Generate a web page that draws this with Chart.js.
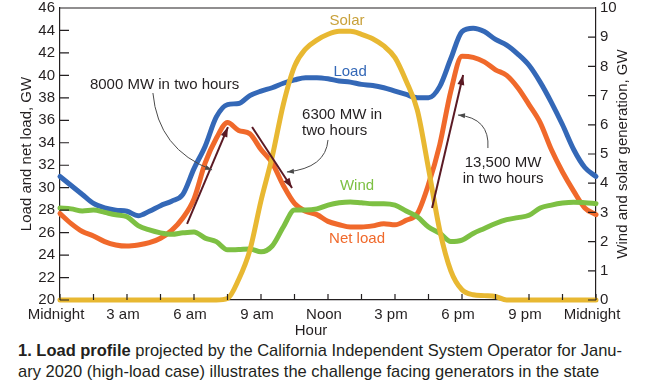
<!DOCTYPE html>
<html>
<head>
<meta charset="utf-8">
<title>Load profile</title>
<script src="https://cdn.jsdelivr.net/npm/chart.js@4.4.1/dist/chart.umd.min.js"></script>
<style>
  html, body { margin: 0; padding: 0; background: #fff; }
  #wrap { position: relative; width: 652px; height: 387px; overflow: hidden; }
  #chartBox { position: absolute; left: 0; top: 0; width: 652px; height: 340px; }
  #caption {
    position: absolute; left: 18px; top: 340px;
    font-family: 'Liberation Sans', Arial, sans-serif; font-size: 17px; line-height: 21px;
    color: #231f20; white-space: nowrap; transform-origin: 0 0;
  }
</style>
</head>
<body>
<div id="wrap">
  <div id="chartBox"><canvas id="loadChart"></canvas></div>
  <div id="caption"><span id="capLine1"><b>1. Load profile</b> projected by the California Independent System Operator for Janu-</span><br>ary 2020 (high-load case) illustrates the challenge facing generators in the state</div>
</div>
<script>
/* ------------------------------------------------------------------
   DATA — half-hourly readings, hour of day on x
   Load / net load on the left axis (GW), wind / solar on the right (GW)
   ------------------------------------------------------------------ */
var HOURS = [0, 0.5, 1, 1.5, 2, 2.5, 3, 3.5, 4, 4.5, 5, 5.5, 6, 6.5, 7, 7.5, 8, 8.5,
             9, 9.5, 10, 10.5, 11, 11.5, 12, 12.5, 13, 13.5, 14, 14.5, 15, 15.5, 16, 16.5,
             17, 17.5, 18, 18.5, 19, 19.5, 20, 20.5, 21, 21.5, 22, 22.5, 23, 23.5, 24];

var LOAD = [31.0, 30.2, 29.4, 28.6, 28.2, 28.0, 27.9, 27.5, 27.9, 28.4, 28.8, 29.4, 31.7, 33.7, 36.3, 37.4, 37.5, 38.2,
            38.6, 38.9, 39.3, 39.6, 39.8, 39.8, 39.7, 39.5, 39.4, 39.2, 39.1, 38.9, 38.6, 38.3, 38.0, 38.0,
            39.0, 41.5, 43.9, 44.2, 43.9, 43.2, 42.7, 41.9, 40.9, 39.4, 37.6, 35.6, 33.4, 31.8, 31.0];

var NET_LOAD = [27.7, 26.8, 26.1, 25.7, 25.2, 24.9, 24.8, 24.9, 25.1, 25.5, 26.2, 27.3, 29.0, 32.2, 34.4, 35.8, 35.1, 34.8,
                33.4, 32.2, 30.2, 28.6, 27.9, 27.6, 27.0, 26.7, 26.5, 26.5, 26.6, 26.8, 26.7, 27.1, 27.7, 30.3,
                33.8, 38.6, 41.7, 41.6, 41.2, 40.5, 40.0, 38.9, 37.4, 35.8, 33.4, 31.4, 29.7, 28.2, 27.6];

var WIND = [3.15, 3.12, 3.05, 3.08, 3.0, 2.92, 2.85, 2.55, 2.4, 2.3, 2.25, 2.3, 2.33, 2.12, 2.0, 1.72, 1.73, 1.75,
            1.65, 1.85, 2.5, 3.08, 3.08, 3.12, 3.25, 3.33, 3.36, 3.33, 3.3, 3.3, 3.25, 3.05, 2.85, 2.5,
            2.29, 2.0, 2.05, 2.28, 2.45, 2.62, 2.75, 2.82, 2.9, 3.15, 3.25, 3.32, 3.35, 3.33, 3.3];

var SOLAR = [0, 0, 0, 0, 0, 0, 0, 0, 0, 0, 0, 0, 0, 0, 0, 0.05, 0.7, 1.7,
             3.4, 4.9, 6.7, 8.0, 8.6, 8.9, 9.1, 9.2, 9.2, 9.1, 8.95, 8.7, 8.3, 7.5, 6.5, 4.5,
             2.4, 1.0, 0.35, 0.18, 0.15, 0.12, 0, 0, 0, 0, 0, 0, 0, 0, 0];

var X_TICK_LABELS = ['Midnight', '3 am', '6 am', '9 am', 'Noon', '3 pm', '6 pm', '9 pm', 'Midnight'];
var LEFT_RANGE  = [20, 46];
var RIGHT_RANGE = [0, 10];

var COLORS = {
  load:   '#3468b7',
  net:    '#f0692b',
  wind:   '#7dc043',
  solar:  '#e8b832',
  solarText: '#c9a13a',
  ink:    '#231f20',
  arrow:  '#5b1a24',
  leader: '#4a4a4a'
};
var FONT = "'Liberation Sans', Arial, sans-serif";

function pts(values) {
  return HOURS.map(function (h, i) { return { x: h, y: values[i] }; });
}

/* ------------------------------------------------------------------
   ANNOTATIONS — placed in data units (hours, left-axis GW)
   ------------------------------------------------------------------ */
var SERIES_LABELS = [
  { text: 'Solar',    h: 12.85, v: 44.85, color: COLORS.solarText },
  { text: 'Load',     h: 12.99, v: 40.3,  color: COLORS.load },
  { text: 'Wind',     h: 13.3,  v: 30.15, color: COLORS.wind },
  { text: 'Net load', h: 13.3,  v: 25.45, color: COLORS.net }
];
var NOTES = [
  { lines: ['8000 MW in two hours'], h: 1.34, v: 39.15, align: 'left' },
  { lines: ['6300 MW in', 'two hours'], h: 10.84, v: 36.47, align: 'left' },
  { lines: ['13,500 MW', 'in two hours'], h: 19.84, v: 32.2, align: 'center' }
];
var RAMP_ARROWS = [
  [5.69, 26.77, 7.52, 35.4],
  [8.6, 35.4, 10.39, 29.97],
  [16.66, 28.19, 18.05, 40.04]
];
var LEADERS = [
  [4.16, 38.43, 4.39, 33.4, 6.81, 31.58],
  [12.0, 34.25, 11.9, 31.75, 10.16, 31.4],
  [19.16, 33.53, 19.25, 36.2, 17.82, 36.47]
];

function arrowHead(ctx, x0, y0, x1, y1, len, wid) {
  var a = Math.atan2(y1 - y0, x1 - x0);
  ctx.beginPath();
  ctx.moveTo(x1, y1);
  ctx.lineTo(x1 - len * Math.cos(a) + wid / 2 * Math.sin(a), y1 - len * Math.sin(a) - wid / 2 * Math.cos(a));
  ctx.lineTo(x1 - len * Math.cos(a) - wid / 2 * Math.sin(a), y1 - len * Math.sin(a) + wid / 2 * Math.cos(a));
  ctx.closePath();
  ctx.fill();
}

var annotationPlugin = {
  id: 'annotations',
  afterDatasetsDraw: function (chart) {
    var ctx = chart.ctx, xs = chart.scales.x, ys = chart.scales.y;
    ctx.save();
    ctx.textBaseline = 'middle';
    ctx.font = '15px ' + FONT;

    SERIES_LABELS.forEach(function (l) {
      ctx.fillStyle = l.color;
      ctx.textAlign = 'center';
      ctx.fillText(l.text, xs.getPixelForValue(l.h), ys.getPixelForValue(l.v));
    });

    ctx.fillStyle = COLORS.ink;
    NOTES.forEach(function (n) {
      ctx.textAlign = n.align;
      n.lines.forEach(function (t, i) {
        ctx.fillText(t, xs.getPixelForValue(n.h), ys.getPixelForValue(n.v) + i * 16);
      });
    });

    // steep ramp arrows
    ctx.strokeStyle = COLORS.arrow;
    ctx.fillStyle = COLORS.arrow;
    ctx.lineWidth = 2;
    RAMP_ARROWS.forEach(function (a) {
      var x0 = xs.getPixelForValue(a[0]), y0 = ys.getPixelForValue(a[1]);
      var x1 = xs.getPixelForValue(a[2]), y1 = ys.getPixelForValue(a[3]);
      ctx.beginPath();
      ctx.moveTo(x0, y0);
      ctx.lineTo(x1, y1);
      ctx.stroke();
      arrowHead(ctx, x0, y0, x1, y1, 10, 7);
    });

    // thin curved leaders from the notes
    ctx.strokeStyle = COLORS.leader;
    ctx.fillStyle = COLORS.leader;
    ctx.lineWidth = 1;
    LEADERS.forEach(function (c) {
      var x0 = xs.getPixelForValue(c[0]), y0 = ys.getPixelForValue(c[1]);
      var cx = xs.getPixelForValue(c[2]), cy = ys.getPixelForValue(c[3]);
      var x1 = xs.getPixelForValue(c[4]), y1 = ys.getPixelForValue(c[5]);
      ctx.beginPath();
      ctx.moveTo(x0, y0);
      ctx.quadraticCurveTo(cx, cy, x1, y1);
      ctx.stroke();
      arrowHead(ctx, cx, cy, x1, y1, 7, 5);
    });
    ctx.restore();
  }
};

/* ------------------------------------------------------------------
   FRAME — top border, inward tick marks, axis titles
   ------------------------------------------------------------------ */
var framePlugin = {
  id: 'frame',
  afterDraw: function (chart) {
    var ctx = chart.ctx, area = chart.chartArea;
    var xs = chart.scales.x, ys = chart.scales.y, y1 = chart.scales.y1;
    ctx.save();
    ctx.strokeStyle = COLORS.ink;
    ctx.lineWidth = 1.2;
    ctx.beginPath();
    ctx.moveTo(area.left, area.top);
    ctx.lineTo(area.right, area.top);
    xs.ticks.forEach(function (t) {
      var px = xs.getPixelForValue(t.value);
      ctx.moveTo(px, area.bottom);
      ctx.lineTo(px, area.bottom - 6);
    });
    ys.ticks.forEach(function (t) {
      var py = ys.getPixelForValue(t.value);
      ctx.moveTo(area.left, py);
      ctx.lineTo(area.left + 9, py);
    });
    y1.ticks.forEach(function (t) {
      var py = y1.getPixelForValue(t.value);
      ctx.moveTo(area.right, py);
      ctx.lineTo(area.right - 8, py);
    });
    ctx.stroke();

    ctx.fillStyle = COLORS.ink;
    ctx.font = '15px ' + FONT;
    ctx.textAlign = 'center';
    ctx.textBaseline = 'middle';
    var midY = (area.top + area.bottom) / 2;
    ctx.fillText('Hour', (area.left + area.right) / 2 - 17, area.bottom + 31);

    ctx.save();
    ctx.translate(area.left - 33, midY);
    ctx.rotate(-Math.PI / 2);
    ctx.fillText('Load and net load, GW', 0, 0);
    ctx.restore();

    ctx.save();
    ctx.translate(area.right + 27, midY);
    ctx.rotate(-Math.PI / 2);
    ctx.fillText('Wind and solar generation, GW', 0, 0);
    ctx.restore();
    ctx.restore();
  }
};

function lineSet(label, values, color, axis, order) {
  return {
    label: label,
    data: pts(values),
    yAxisID: axis,
    borderColor: color,
    borderWidth: 5,
    pointRadius: 0,
    borderCapStyle: 'round',
    borderJoinStyle: 'round',
    cubicInterpolationMode: 'monotone',
    clip: 4,
    order: order
  };
}

function initLoadChart() {
  var canvas = document.getElementById('loadChart');
  var axisBorder = { display: true, color: COLORS.ink, width: 1.2 };
  var tickFont = { family: FONT, size: 15 };

  new Chart(canvas, {
    type: 'line',
    data: {
      datasets: [
        lineSet('Solar', SOLAR, COLORS.solar, 'y1', 0),
        lineSet('Wind', WIND, COLORS.wind, 'y1', 1),
        lineSet('Net load', NET_LOAD, COLORS.net, 'y', 2),
        lineSet('Load', LOAD, COLORS.load, 'y', 3)
      ]
    },
    options: {
      responsive: true,
      maintainAspectRatio: false,
      animation: false,
      layout: { padding: { top: 8, left: 0, right: 0, bottom: 0 } },
      plugins: { legend: { display: false }, tooltip: { enabled: false } },
      scales: {
        x: {
          type: 'linear',
          min: 0, max: 24,
          grid: { drawOnChartArea: false, drawTicks: false },
          border: axisBorder,
          ticks: {
            stepSize: 1.5, autoSkip: false, maxRotation: 0, padding: 6, labelOffset: -4,
            color: COLORS.ink, font: tickFont,
            callback: function (v) { return v % 3 === 0 ? X_TICK_LABELS[v / 3] : ''; }
          },
          afterFit: function (s) { s.height = 40; }
        },
        y: {
          position: 'left',
          min: LEFT_RANGE[0], max: LEFT_RANGE[1],
          grid: { drawOnChartArea: false, drawTicks: false },
          border: axisBorder,
          ticks: { stepSize: 2, padding: 5, color: COLORS.ink, font: tickFont },
          afterFit: function (s) { s.width = 60; s.paddingTop = 0; s.paddingBottom = 0; }
        },
        y1: {
          position: 'right',
          min: RIGHT_RANGE[0], max: RIGHT_RANGE[1],
          grid: { drawOnChartArea: false, drawTicks: false },
          border: axisBorder,
          ticks: { stepSize: 1, padding: 4, color: COLORS.ink, font: tickFont },
          afterFit: function (s) { s.width = 56; s.paddingTop = 0; s.paddingBottom = 0; }
        }
      }
    },
    plugins: [annotationPlugin, framePlugin]
  });
}

// squeeze the caption so line one spans the width of the reference
function fitCaption() {
  var cap = document.getElementById('caption');
  var w = document.getElementById('capLine1').getBoundingClientRect().width;
  if (w > 0) cap.style.transform = 'scaleX(' + (604 / w) + ')';
}

initLoadChart();
fitCaption();
</script>
</body>
</html>
